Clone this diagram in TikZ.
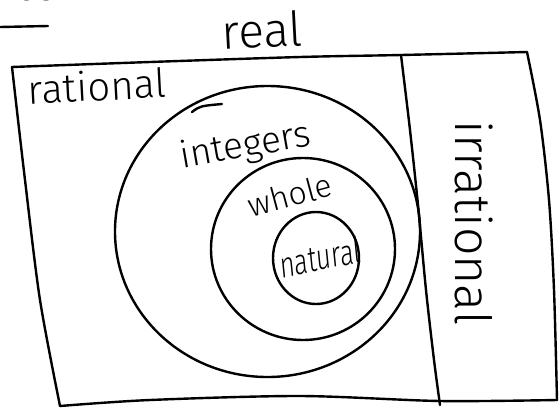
\documentclass[tikz,border=0pt]{standalone}
\usepackage{fontspec}
\newfontfamily\hand{Fira Sans Light}
\begin{document}
\begin{tikzpicture}[x=1pt,y=-1pt,
  ink/.style={line width=2.4pt, line cap=round, line join=round},
  lbl/.style={inner sep=0pt, text=black}]
\useasboundingbox (0,0) rectangle (560,408);
\fill[white] (0,0) rectangle (560,408);
% cropped title fragment
\node[lbl, anchor=base east, font=\hand\fontsize{40}{40}\selectfont] (es) at (56,0) {es};
\draw[ink] (0,27) -- (48,26);
% real label
\node[lbl, font=\hand\fontsize{48}{48}\selectfont, rotate=3] (real) at (262,30) {real};
% outer box
\draw[ink] plot[smooth] coordinates {(12,67) (150,62) (300,57) (401,55) (527,52)};
\draw[ink] plot[smooth] coordinates {(527,52) (540,120) (549,200) (554,290) (557,400)};
\draw[ink] plot[smooth] coordinates {(557,400) (440,401) (300,396) (150,400) (60,406)};
\draw[ink] plot[smooth] coordinates {(60,406) (40,300) (25,180) (12,67)};
% divider
\draw[ink] plot[smooth] coordinates {(401,55) (410,130) (418,205) (426,290) (434,360) (440,405)};
% circles
\draw[ink] (267.5,231.5) ellipse [x radius=152.5, y radius=145.5];
\draw[ink] (192,112) .. controls (200,106) .. (222,104);
\draw[ink] (303,249) ellipse [x radius=92, y radius=91];
\draw[ink] (316,258) ellipse [x radius=43, y radius=46];
% labels
\node[lbl, font=\hand\fontsize{40}{40}\selectfont, rotate=3] (rational) at (97,86) {rational};
\node[lbl, font=\hand\fontsize{37}{37}\selectfont, rotate=10] (integers) at (246,147) {integers};
\node[lbl, font=\hand\fontsize{32}{32}\selectfont, rotate=15] (whole) at (290,195) {whole};
\node[lbl, font=\hand\fontsize{30}{30}\selectfont, xscale=0.85, yscale=1.2, rotate=8] (natural) at (320,257) {natural};
\node[lbl, font=\hand\fontsize{50}{50}\selectfont, rotate=-90] (irrational) at (474,223) {irrational};
\end{tikzpicture}
\end{document}
